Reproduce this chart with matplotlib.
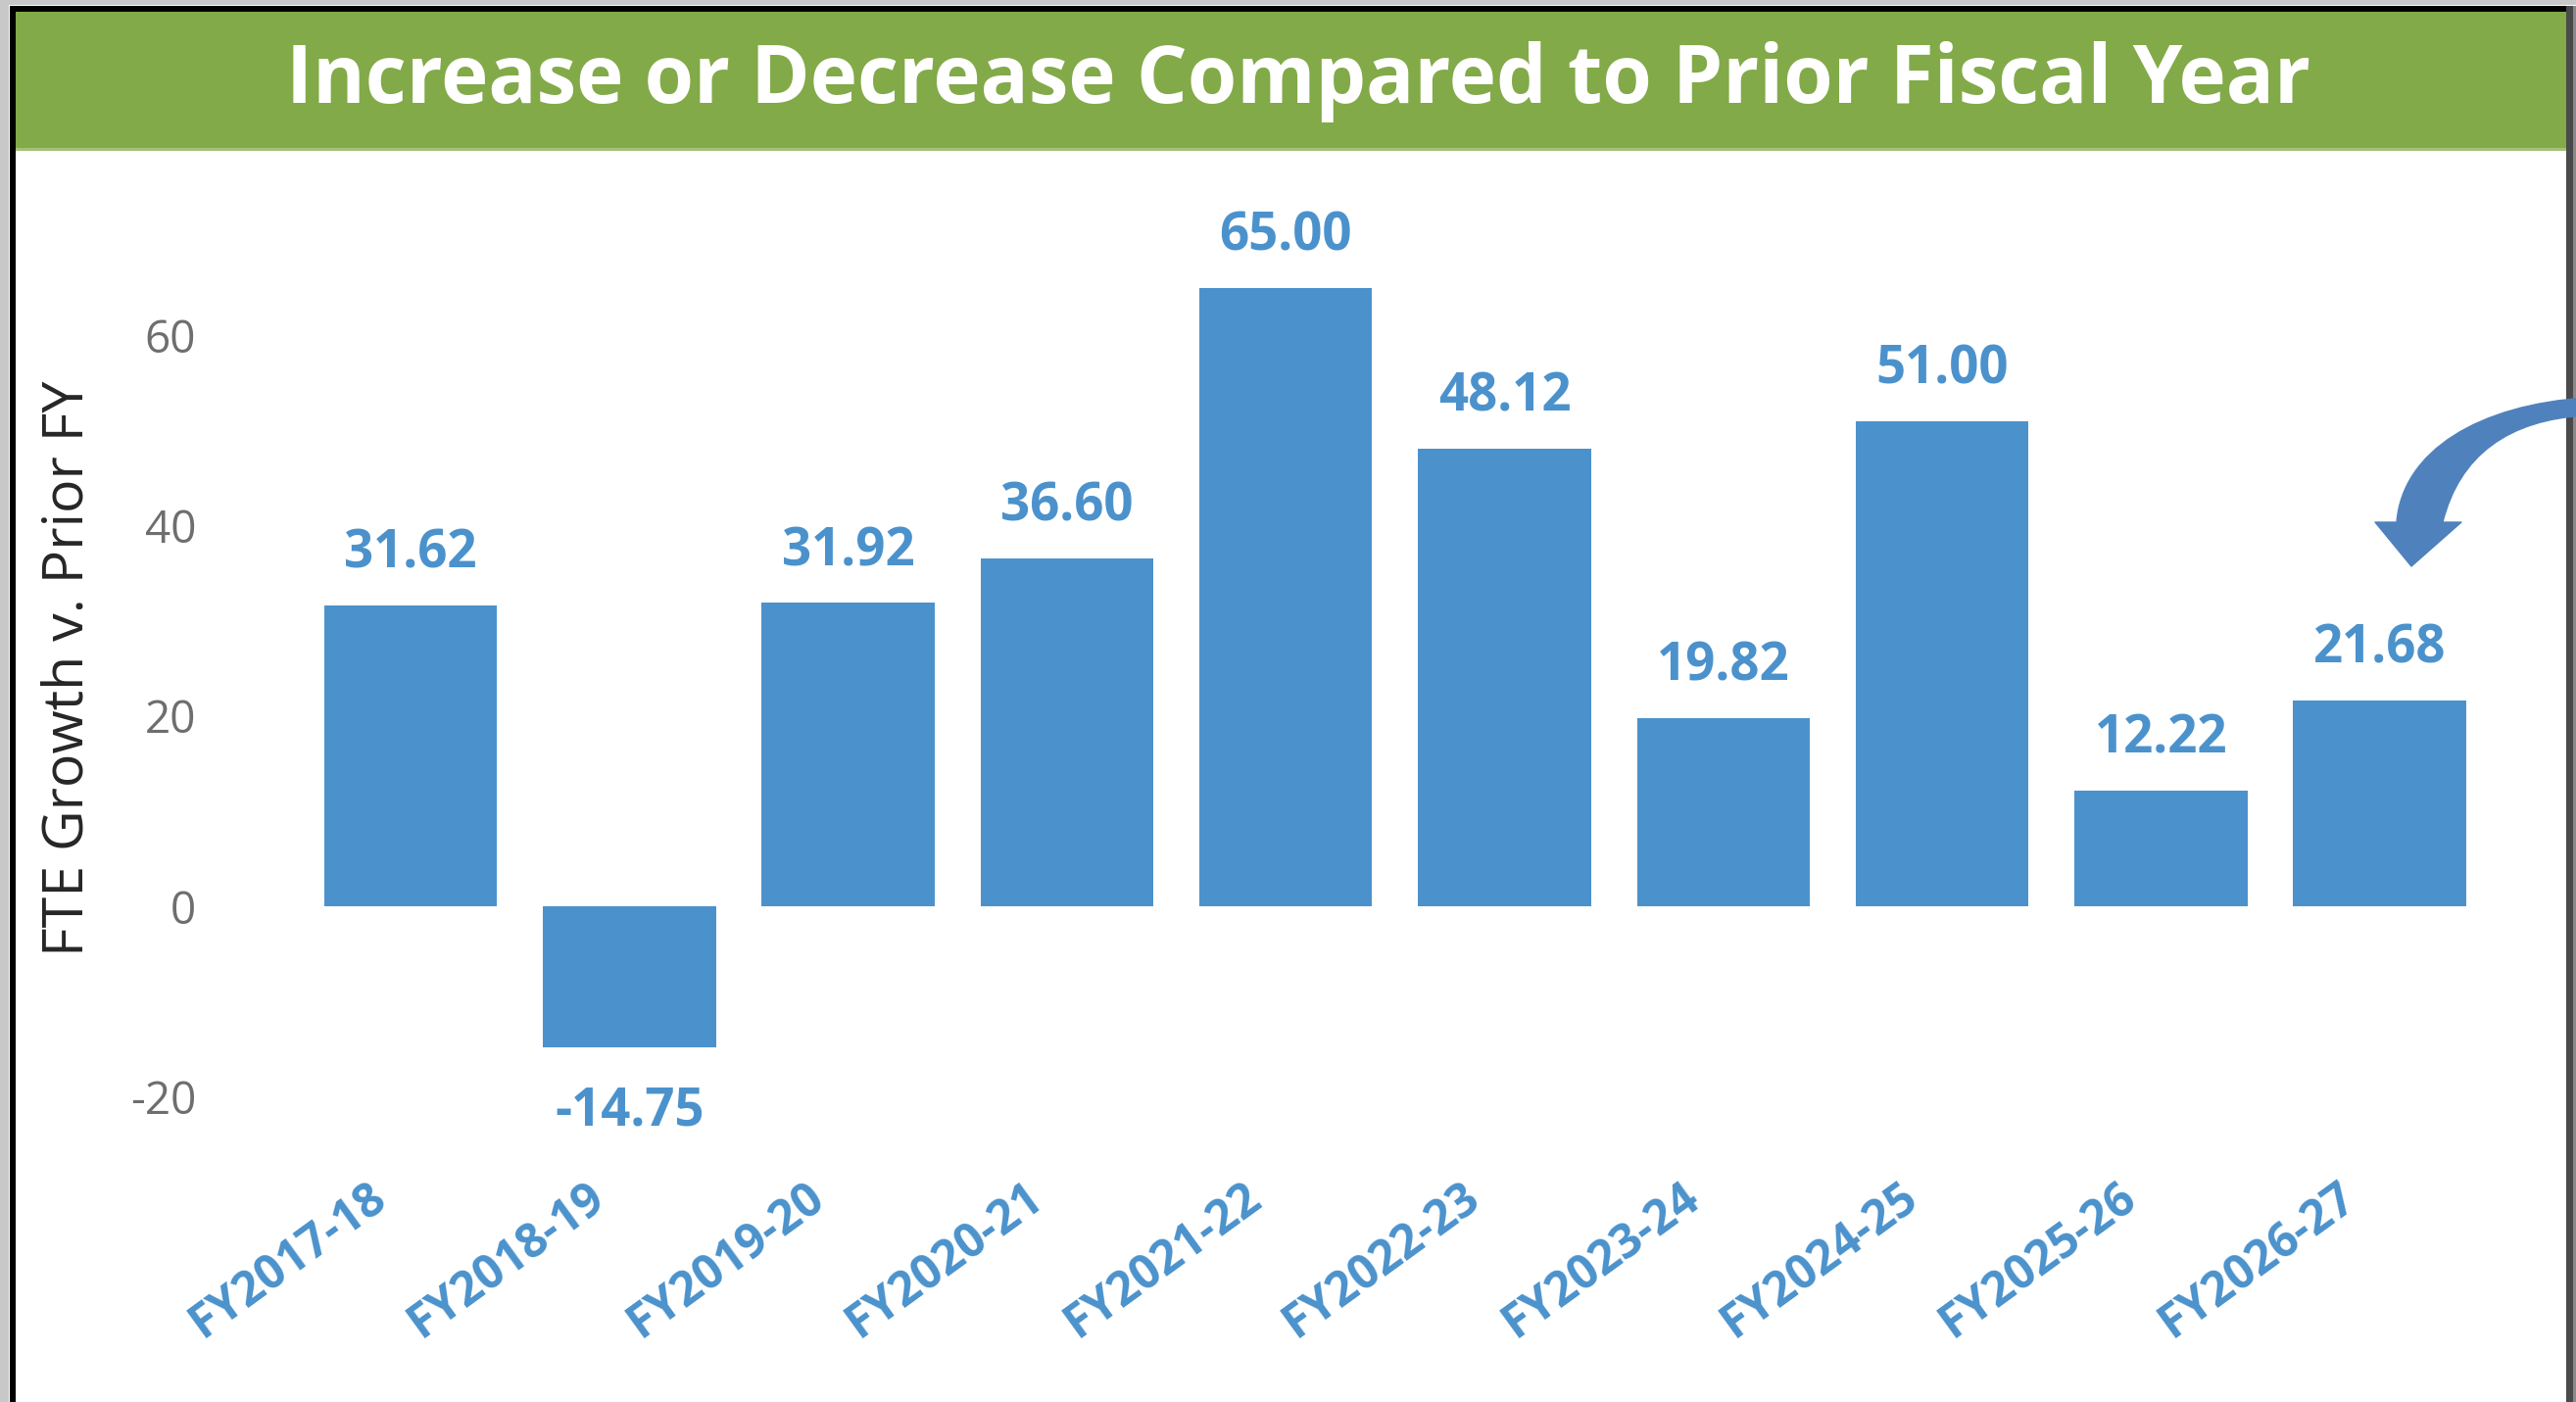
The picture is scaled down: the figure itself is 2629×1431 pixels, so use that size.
import matplotlib
matplotlib.use("Agg")
import matplotlib.pyplot as plt
from matplotlib.patches import Rectangle, PathPatch
from matplotlib.path import Path
from matplotlib.transforms import Affine2D, ScaledTranslation
from matplotlib import font_manager

# ---------------- data ----------------
categories = ["FY2017-18", "FY2018-19", "FY2019-20", "FY2020-21", "FY2021-22",
              "FY2022-23", "FY2023-24", "FY2024-25", "FY2025-26", "FY2026-27"]
values = [31.62, -14.75, 31.92, 36.60, 65.00, 48.12, 19.82, 51.00, 12.22, 21.68]
y_ticks = [-20, 0, 20, 40, 60]
title_text = "Increase or Decrease Compared to Prior Fiscal Year"
y_label_text = "FTE Growth v. Prior FY"

BLUE = "#4B92CC"
GREEN = "#82AA48"
ARROW = "#4F81BD"

W, H = 2629, 1431
fig = plt.figure(figsize=(W / 100, H / 100), dpi=100)
fig.patch.set_facecolor("white")
# image-pixel transform (y downward)
px = Affine2D().scale(1 / W, -1 / H).translate(0, 1) + fig.transFigure


def has_font(name, weight="normal"):
    try:
        font_manager.findfont(font_manager.FontProperties(family=name, weight=weight),
                              fallback_to_default=False)
        return True
    except Exception:
        return False


title_family = "Liberation Sans Narrow" if has_font("Liberation Sans Narrow", "bold") else "Open Sans"
BASE = "Open Sans"

# ---------------- frame & header ----------------
def rect(x, y, w, h, c, z=1):
    fig.add_artist(Rectangle((x, y), w, h, transform=px, facecolor=c, edgecolor="none", zorder=z))

rect(0, 0, W, 5, "#C8C8C8")
rect(0, 0, 9, H, "#C8C8C8")
rect(10, 6, 2610, 6, "#000000")
rect(10, 6, 6, H, "#000000")
rect(2619, 6, 7, H, "#4A4A4A")
rect(2626, 6, 3, H, "#8A8A8A")
rect(16, 12, 2603, 140, GREEN)
rect(16, 151, 2603, 3, "#A3C179")

# ---------------- axes ----------------
left, right, top, bottom = 240.4, 2585.0, 196.5, 1139.0
ax = fig.add_axes([left / W, 1 - bottom / H, (right - left) / W, (bottom - top) / H])
ax.set_xlim(-0.8, 9.7)
ax.set_ylim(-22, 75)
for s in ax.spines.values():
    s.set_visible(False)
ax.set_facecolor("none")

x = list(range(len(categories)))
ax.bar(x, values, width=0.79, color=BLUE, zorder=2)

for xi, v in zip(x, values):
    off = 27.4 if v >= 0 else -57.6
    ax.annotate(f"{v:.2f}", xy=(xi, v), xytext=(0, off), textcoords="offset points",
                ha="center", va="baseline", fontsize=38, fontweight="bold",
                family=BASE, color=BLUE)

ax.set_yticks(y_ticks)
ax.set_yticklabels([f"{t:d}" for t in y_ticks],
                   fontsize=33, family=BASE, color="#6E6E6E")
ax.tick_params(axis="y", length=0, pad=29)

ax.set_xticks(x)
ax.set_xticklabels(categories, rotation=36, ha="right", va="baseline",
                   rotation_mode="anchor", fontsize=34.5, fontweight="bold",
                   family=BASE, color=BLUE)
ax.tick_params(axis="x", length=0, pad=64)
shift = ScaledTranslation(-22 / 100, 0, fig.dpi_scale_trans)
for lbl in ax.get_xticklabels():
    lbl.set_transform(lbl.get_transform() + shift)

# ---------------- texts ----------------
renderer = fig.canvas.get_renderer()


def fit(t, target, dim="w"):
    bb = t.get_window_extent(renderer)
    cur = bb.width if dim == "w" else bb.height
    t.set_fontsize(t.get_fontsize() * target / cur)


t = fig.text(1325, 105, title_text, transform=px, ha="center", va="baseline",
             color="white", fontweight="bold", family=title_family, fontsize=60, zorder=5)
fit(t, 2066, "w")

yl = fig.text(70, 682, y_label_text, transform=px, rotation=90, ha="center", va="center",
              fontsize=36, family=BASE, color="#262626", zorder=5)
fit(yl, 587, "h")

# ---------------- curved arrow ----------------
verts = [(2640, 406), (2530, 413), (2452, 460), (2446, 533),
         (2424, 533), (2461, 578), (2512, 533), (2493, 533),
         (2510, 465), (2560, 428), (2640, 424), (2640, 406)]
codes = [Path.MOVETO, Path.CURVE4, Path.CURVE4, Path.CURVE4,
         Path.LINETO, Path.LINETO, Path.LINETO, Path.LINETO,
         Path.CURVE4, Path.CURVE4, Path.CURVE4, Path.CLOSEPOLY]
fig.add_artist(PathPatch(Path(verts, codes), transform=px, facecolor=ARROW,
                         edgecolor=ARROW, linewidth=1, joinstyle="round", zorder=4))

fig.savefig("out.png", dpi=100)
